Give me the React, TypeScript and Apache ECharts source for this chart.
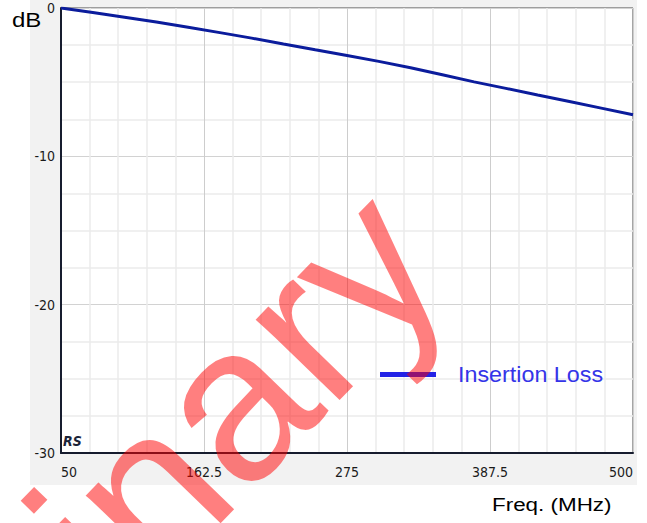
import React, { useEffect, useRef } from "react";
import * as echarts from "echarts";

const freqs = [50, 75, 100, 125, 150, 175, 200, 225, 250, 275, 300, 325, 350, 375, 400, 425, 450, 475, 500];
const insertionLoss = [0, -0.3, -0.62, -0.95, -1.3, -1.66, -2.03, -2.43, -2.82, -3.2, -3.6, -4.03, -4.5, -4.98, -5.42, -5.87, -6.3, -6.75, -7.2];
const xTicks = [50, 162.5, 275, 387.5, 500];
const yTicks = [-30, -20, -10, 0];
const seriesName = "Insertion Loss";
const yName = "dB";
const xName = "Freq. (MHz)";
const watermark = "Preliminary";
const logo = "RS";

export default function App() {
  const ref = useRef<HTMLDivElement>(null);
  useEffect(() => {
    document.body.style.margin = "0";
    const chart = echarts.init(ref.current!, null, { renderer: "svg" });
    const labelFont = "'DejaVu Sans Condensed', 'DejaVu Sans', sans-serif";
    const mainFont = "'Liberation Sans', Arial, sans-serif";
    const xInterval = xTicks[1] - xTicks[0];
    const yInterval = yTicks[1] - yTicks[0];
    chart.setOption({
      animation: false,
      backgroundColor: "transparent",
      grid: {
        left: 61,
        top: 8,
        width: 572,
        height: 445,
        show: true,
        backgroundColor: "#ffffff",
        borderColor: "#4a4a4a",
        borderWidth: 1,
      },
      xAxis: {
        type: "value",
        min: xTicks[0],
        max: xTicks[xTicks.length - 1],
        interval: xInterval,
        axisLine: { show: true, onZero: false, lineStyle: { color: "#161c2e", width: 2 } },
        axisTick: { show: false },
        axisLabel: {
          margin: 12,
          fontFamily: labelFont,
          fontSize: 14,
          color: "#1a1a1a",
          alignMinLabel: "left",
          alignMaxLabel: "right",
          showMinLabel: true,
          showMaxLabel: true,
          formatter: (v: number) => String(v),
        },
        splitLine: { show: true, lineStyle: { color: "#cdcdcd", width: 1 } },
        minorTick: { show: false, splitNumber: 5 },
        minorSplitLine: { show: true, lineStyle: { color: "#ebebeb", width: 1.5 } },
      },
      yAxis: {
        type: "value",
        min: yTicks[0],
        max: yTicks[yTicks.length - 1],
        interval: yInterval,
        axisLine: { show: true, onZero: false, lineStyle: { color: "#161c2e", width: 2 } },
        axisTick: { show: false },
        axisLabel: {
          margin: 6,
          fontFamily: labelFont,
          fontSize: 14,
          color: "#1a1a1a",
          formatter: (v: number) => String(v),
        },
        splitLine: { show: true, lineStyle: { color: "#d2d2d2", width: 1 } },
        minorTick: { show: false, splitNumber: 4 },
        minorSplitLine: { show: true, lineStyle: { color: "#ebebeb", width: 1.5 } },
      },
      series: [
        {
          name: seriesName,
          type: "line",
          data: freqs.map((f, i) => [f, insertionLoss[i]]),
          symbol: "none",
          showSymbol: false,
          lineStyle: { color: "#0b1c9c", width: 3 },
          z: 3,
        },
      ],
      graphic: [
        {
          type: "text",
          x: 63,
          y: 441,
          z: 10,
          style: {
            text: logo,
            x: 0,
            y: 0,
            fill: "#1b2438",
            fontFamily: labelFont,
            fontSize: 14,
            fontStyle: "italic",
            fontWeight: "bold",
            align: "left",
            verticalAlign: "middle",
          },
        },
        {
          type: "text",
          x: 12,
          y: 20,
          scaleX: 1.2,
          z: 10,
          style: {
            text: yName,
            x: 0,
            y: 0,
            fill: "#000000",
            fontFamily: mainFont,
            fontSize: 20,
            align: "left",
            verticalAlign: "middle",
          },
        },
        {
          type: "text",
          x: 492,
          y: 504,
          scaleX: 1.18,
          z: 10,
          style: {
            text: xName,
            x: 0,
            y: 0,
            fill: "#000000",
            fontFamily: mainFont,
            fontSize: 19,
            align: "left",
            verticalAlign: "middle",
          },
        },
        {
          type: "line",
          z: 10,
          shape: { x1: 380, y1: 374.5, x2: 436, y2: 374.5 },
          style: { stroke: "#2323e6", lineWidth: 5 },
        },
        {
          type: "text",
          x: 458,
          y: 374,
          scaleX: 1.06,
          z: 10,
          style: {
            text: seriesName,
            x: 0,
            y: 0,
            fill: "#3434e8",
            fontFamily: mainFont,
            fontSize: 22,
            align: "left",
            verticalAlign: "middle",
          },
        },
        {
          type: "text",
          x: 19.5,
          y: 622,
          rotation: (46 * Math.PI) / 180,
          z: 100,
          style: {
            text: watermark,
            x: 0,
            y: 0,
            fill: "rgba(255,0,0,0.5)",
            fontFamily: mainFont,
            fontSize: 220,
            align: "center",
            verticalAlign: "middle",
          },
        },
      ],
    });
    return () => chart.dispose();
  }, []);
  return (
    <div style={{ position: "fixed", left: 0, top: 0, width: 647, height: 523, background: "#ffffff" }}>
      <div style={{ position: "absolute", left: 30, top: 0, width: 607, height: 485, background: "#f2f2f2" }} />
      <div ref={ref} style={{ position: "absolute", left: 0, top: 0, width: 647, height: 523 }} />
    </div>
  );
}
